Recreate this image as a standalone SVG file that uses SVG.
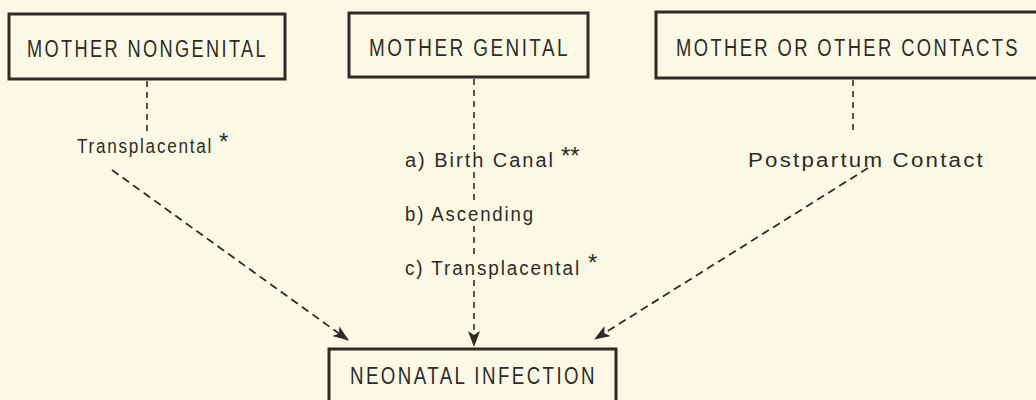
<svg xmlns="http://www.w3.org/2000/svg" width="1036" height="400" viewBox="0 0 1036 400">
  <style>
    .box { fill: none; stroke: #2d2c26; stroke-width: 3; }
    .bt { font-family: "Liberation Sans", Arial, sans-serif; font-size: 23px; letter-spacing: 3px; fill: #2d2c26; }
    .lt { font-family: "Liberation Sans", Arial, sans-serif; font-size: 20px; letter-spacing: 2px; fill: #2d2c26; }
    .ast { font-family: "Liberation Sans", Arial, sans-serif; font-size: 24px; fill: #2d2c26; }
    .dash { fill: none; stroke: #2d2c26; stroke-width: 1.8; stroke-dasharray: 8 5; }
    .vdash { fill: none; stroke: #2d2c26; stroke-width: 1.6; stroke-dasharray: 6 5; }
  </style>
  <defs>
    <marker id="ah" viewBox="0 0 16 12" refX="15" refY="6" markerWidth="16" markerHeight="12" markerUnits="userSpaceOnUse" orient="auto">
      <path d="M0,0 L16,6 L0,12 L4,6 Z" fill="#2d2c26"/>
    </marker>
  </defs>
  <rect x="0" y="0" width="1036" height="400" fill="#fbf9e6"/>

  <g id="node-mother-nongenital">
    <rect class="box" x="9" y="14" width="276" height="65"/>
    <text class="bt" x="27" y="57" textLength="241" lengthAdjust="spacingAndGlyphs">MOTHER NONGENITAL</text>
  </g>
  <g id="node-mother-genital">
    <rect class="box" x="349" y="13" width="239" height="64"/>
    <text class="bt" x="369" y="56" textLength="201" lengthAdjust="spacingAndGlyphs">MOTHER GENITAL</text>
  </g>
  <g id="node-mother-other">
    <path class="box" d="M1040,12 H656 V78 H1040"/>
    <text class="bt" x="676" y="56" textLength="344" lengthAdjust="spacingAndGlyphs">MOTHER OR OTHER CONTACTS</text>
  </g>
  <g id="node-neonatal">
    <path class="box" d="M329,404 V349 H616 V404"/>
    <text class="bt" x="350" y="384" textLength="247" lengthAdjust="spacingAndGlyphs">NEONATAL INFECTION</text>
  </g>

  <g id="labels">
    <text class="lt" x="77" y="153" textLength="136" lengthAdjust="spacingAndGlyphs">Transplacental</text>
    <text class="ast" x="219" y="150">*</text>
    <text class="lt" x="405" y="167" textLength="150" lengthAdjust="spacingAndGlyphs">a) Birth Canal</text>
    <text class="ast" x="561" y="164">**</text>
    <text class="lt" x="405" y="221" textLength="130" lengthAdjust="spacingAndGlyphs">b) Ascending</text>
    <text class="lt" x="405" y="275" textLength="176" lengthAdjust="spacingAndGlyphs">c) Transplacental</text>
    <text class="ast" x="588" y="271">*</text>
    <text class="lt" x="748" y="167" textLength="237" lengthAdjust="spacingAndGlyphs">Postpartum Contact</text>
  </g>

  <g id="connectors">
    <line class="vdash" x1="147" y1="81" x2="147" y2="134"/>
    <line class="dash" x1="112" y1="170" x2="348" y2="340" marker-end="url(#ah)"/>
    <line class="vdash" x1="474" y1="79" x2="474" y2="150"/>
    <line class="vdash" x1="474" y1="172" x2="474" y2="203"/>
    <line class="vdash" x1="474" y1="226" x2="474" y2="256"/>
    <line class="vdash" x1="474" y1="280" x2="474" y2="346" marker-end="url(#ah)"/>
    <line class="vdash" x1="853" y1="80" x2="853" y2="132"/>
    <line class="dash" x1="868" y1="168" x2="595" y2="339" marker-end="url(#ah)"/>
  </g>
</svg>
